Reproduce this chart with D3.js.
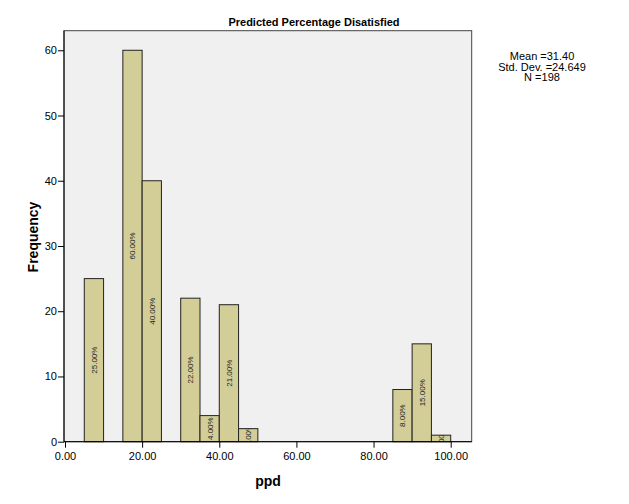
<!DOCTYPE html>
<html><head><meta charset="utf-8">
<script src="https://cdn.jsdelivr.net/npm/d3@7"></script>
<style>body{margin:0;background:#fff}text{font-family:"Liberation Sans",Arial,sans-serif}</style>
</head><body>
<svg id="c" width="629" height="504"></svg>
<script>
const binStart = [5, 15, 20, 30, 35, 40, 45, 85, 90, 95];
const binEnd   = [10, 20, 25, 35, 40, 45, 50, 90, 95, 100];
const counts   = [25, 60, 40, 22, 4, 21, 2, 8, 15, 1];
const pctLabels = ["25.00%","60.00%","40.00%","22.00%","4.00%","21.00%","2.00%","8.00%","15.00%","1.00%"];
const xTicks = [0, 20, 40, 60, 80, 100];
const yTicks = [0, 10, 20, 30, 40, 50, 60];
const statsLines = ["Mean =31.40", "Std. Dev. =24.649", "N =198"];

const svg = d3.select("#c");
const x = d3.scaleLinear().domain([0, 100]).range([65, 450.7]);
const y = d3.scaleLinear().domain([0, 63]).range([441.7, 30.7]);
const fL = 64, fR = 471.7, fT = 30.7, fB = 441.7;

svg.append("rect").attr("x", fL).attr("y", fT).attr("width", fR - fL).attr("height", fB - fT)
  .attr("fill", "#f0f0f0").attr("stroke", "#444").attr("stroke-width", 1);

const data = counts.map((c, i) => ({c, s: binStart[i], e: binEnd[i], lab: pctLabels[i], i}));
const defs = svg.append("defs");
data.forEach(d => {
  defs.append("clipPath").attr("id", "cl" + d.i).append("rect")
    .attr("x", x(d.s)).attr("y", y(d.c)).attr("width", x(d.e) - x(d.s)).attr("height", y(0) - y(d.c));
});
const g = svg.append("g");
g.selectAll("rect.bar").data(data).enter().append("rect").attr("class", "bar")
  .attr("x", d => x(d.s)).attr("y", d => y(d.c))
  .attr("width", d => x(d.e) - x(d.s)).attr("height", d => y(0) - y(d.c))
  .attr("fill", "#d3ce98").attr("stroke", "#222").attr("stroke-width", 1);
g.selectAll("g.lab").data(data).enter().append("g").attr("class", "lab")
  .attr("clip-path", d => "url(#cl" + d.i + ")")
  .append("text")
  .attr("transform", d => `translate(${(x(d.s) + x(d.e)) / 2 + 3},${(y(d.c) + y(0)) / 2}) rotate(-90)`)
  .attr("text-anchor", "middle").attr("font-size", "8px").attr("fill", "#222")
  .text(d => d.lab);

// axes
const xAxis = d3.axisBottom(x).tickValues(xTicks).tickFormat(d3.format(".2f")).tickSize(6).tickSizeOuter(0);
const xg = svg.append("g").attr("transform", `translate(0,${fB})`).call(xAxis);
xg.select(".domain").remove();
xg.selectAll("line").attr("stroke", "#000");
xg.selectAll("text").attr("font-size", "11px").attr("fill", "#000").attr("dy", "0.85em");

const yAxis = d3.axisLeft(y).tickValues(yTicks).tickSize(6).tickSizeOuter(0);
const yg = svg.append("g").attr("transform", `translate(${fL},0)`).call(yAxis);
yg.select(".domain").remove();
yg.selectAll("line").attr("stroke", "#000");
yg.selectAll("text").attr("font-size", "11px").attr("fill", "#000").attr("x", -7);

svg.append("line").attr("x1", fL).attr("x2", fR).attr("y1", fB).attr("y2", fB).attr("stroke", "#000");
svg.append("line").attr("x1", fL).attr("x2", fL).attr("y1", fT).attr("y2", fB).attr("stroke", "#000");

svg.append("text").attr("x", 314).attr("y", 26).attr("text-anchor", "middle")
  .attr("font-size", "11px").attr("font-weight", "bold").text("Predicted Percentage Disatisfied");
svg.append("text").attr("transform", "translate(38,237) rotate(-90)").attr("text-anchor", "middle")
  .attr("font-size", "14px").attr("font-weight", "bold").text("Frequency");
svg.append("text").attr("x", 268).attr("y", 486).attr("text-anchor", "middle")
  .attr("font-size", "14px").attr("font-weight", "bold").text("ppd");
svg.selectAll("text.st").data(statsLines).enter().append("text").attr("class", "st")
  .attr("x", 542).attr("y", (d, i) => 60 + i * 10.5).attr("text-anchor", "middle")
  .attr("font-size", "11px").text(d => d);
</script>
</body></html>
